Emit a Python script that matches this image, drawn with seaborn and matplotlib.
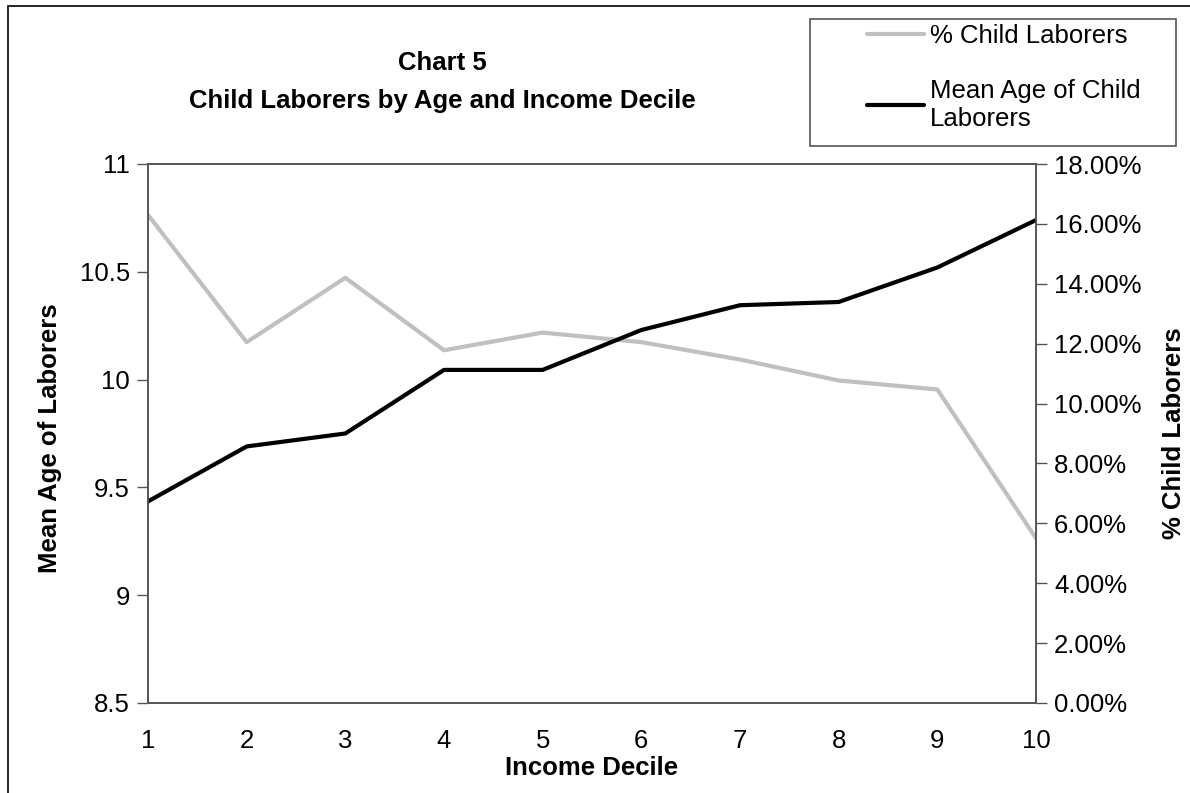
import pandas as pd
import matplotlib.pyplot as plt
import seaborn as sns
from matplotlib.patches import Rectangle
from matplotlib.ticker import PercentFormatter

# values
deciles = [1, 2, 3, 4, 5, 6, 7, 8, 9, 10]
mean_age = [9.435, 9.69, 9.75, 10.045, 10.045, 10.23, 10.345, 10.36, 10.52, 10.74]
pct_child = [16.3, 12.05, 14.2, 11.78, 12.37, 12.05, 11.47, 10.77, 10.47, 5.5]

age_ticks = [8.5, 9, 9.5, 10, 10.5, 11]
age_tick_labels = ["8.5", "9", "9.5", "10", "10.5", "11"]
pct_ticks = [0, 2, 4, 6, 8, 10, 12, 14, 16, 18]

df = pd.DataFrame({"decile": deciles, "age": mean_age, "pct": pct_child})

sns.set_style("white")
plt.rcParams['font.family'] = ['Liberation Sans', 'DejaVu Sans']
plt.rcParams['text.color'] = 'black'
plt.rcParams['axes.labelcolor'] = 'black'

FS = 18.5
W, H = 1190, 793
fig = plt.figure(figsize=(W / 100, H / 100), dpi=100)
ax = fig.add_axes([148 / W, 1 - 703 / H, (1036 - 148) / W, (703 - 164) / H])
ax2 = ax.twinx()
ax2.set_position(ax.get_position())

sns.lineplot(data=df, x="decile", y="pct", ax=ax2, color="#c0c0c0", linewidth=3,
             label="% Child Laborers", legend=False)
sns.lineplot(data=df, x="decile", y="age", ax=ax, color="black", linewidth=3,
             label="Mean Age of Child\nLaborers", legend=False)
# black line on top
ax.set_zorder(ax2.get_zorder() + 1)
ax.patch.set_visible(False)

ax.set_xlim(1, 10)
ax.set_xticks(deciles)
ax.set_ylim(8.5, 11)
ax.set_yticks(age_ticks)
ax.set_yticklabels(age_tick_labels)
ax2.set_ylim(0, 18)
ax2.set_yticks(pct_ticks)
ax2.yaxis.set_major_formatter(PercentFormatter(decimals=2))

for a in (ax, ax2):
    for s in a.spines.values():
        s.set_color("#555555")
        s.set_linewidth(1.2)
    a.tick_params(axis="both", which="major", direction="out", length=8, width=1,
                  color="#555555", labelcolor="black", labelsize=FS, pad=5)
ax.tick_params(axis="x", pad=11)

ax.set_xlabel("Income Decile", fontsize=FS, fontweight="bold", labelpad=2)
ax.set_ylabel("")
ax2.set_ylabel("")
fig.text(50 / W, 1 - 438 / H, "Mean Age of Laborers", rotation=90, ha="center",
         va="center", fontsize=FS, fontweight="bold")
fig.text(1174 / W, 1 - 433 / H, "% Child Laborers", rotation=90, ha="center",
         va="center", fontsize=FS, fontweight="bold")

fig.text(442 / W, 1 - 63 / H, "Chart 5", ha="center", va="center",
         fontsize=FS, fontweight="bold")
fig.text(442 / W, 1 - 101 / H, "Child Laborers by Age and Income Decile", ha="center",
         va="center", fontsize=FS, fontweight="bold")

h2, l2 = ax2.get_legend_handles_labels()
h1, l1 = ax.get_legend_handles_labels()
leg = fig.legend(h2 + h1, l2 + l1, loc="upper left",
                 bbox_to_anchor=(867 / W, 1 - 24 / H), fontsize=FS,
                 frameon=False, handlelength=2.2, handletextpad=0.25,
                 labelspacing=1.2, borderpad=0, borderaxespad=0)

# legend box
fig.patches.append(Rectangle((810 / W, 1 - 146 / H), (1176 - 810) / W, (146 - 19) / H,
                             transform=fig.transFigure, fill=False,
                             edgecolor="#555555", linewidth=1.2))

# outer chart border, cropped at right and bottom
fig.patches.append(Rectangle((8 / W, -0.1), 1.2, 1 - 6 / H + 0.1,
                             transform=fig.transFigure, fill=False,
                             edgecolor="black", linewidth=1.2))

fig.savefig("out.png", dpi=100)
